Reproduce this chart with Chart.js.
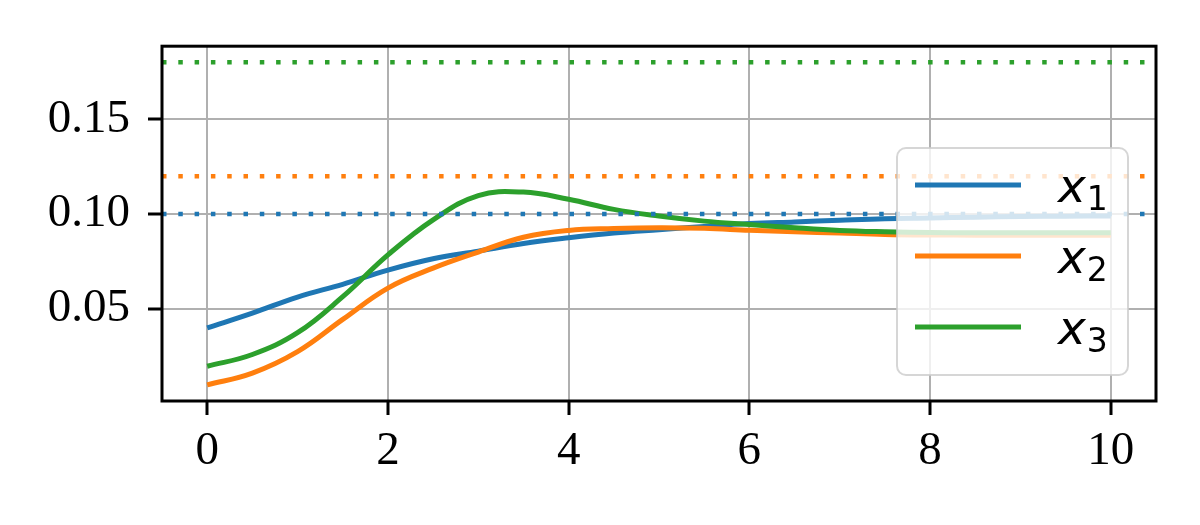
<!DOCTYPE html>
<html>
<head>
<meta charset="utf-8">
<script src="https://cdn.jsdelivr.net/npm/chart.js@4.4.0/dist/chart.umd.min.js"></script>
<style>
  html, body { margin: 0; padding: 0; background: #fff; }
  canvas { display: block; }
</style>
</head>
<body>
<canvas id="chart" width="1200" height="525"></canvas>
<script>
// time samples and the three state trajectories
const times = [0, 0.5, 1, 1.5, 2, 2.5, 3, 3.5, 4, 4.5, 5, 5.5, 6, 6.5, 7, 7.5, 8, 8.5, 9, 9.5, 10];
const x1Values = [0.040, 0.0478, 0.0563, 0.063, 0.0705, 0.0765, 0.0805, 0.0845, 0.0875, 0.090, 0.0918, 0.0935, 0.095, 0.0959, 0.0968, 0.0976, 0.098, 0.0984, 0.0987, 0.0989, 0.099];
const x2Values = [0.0100, 0.0162, 0.0275, 0.0445, 0.061, 0.0715, 0.080, 0.0878, 0.0914, 0.0924, 0.0928, 0.0925, 0.0915, 0.0907, 0.090, 0.0893, 0.089, 0.0889, 0.0889, 0.0889, 0.0889];
const x3Values = [0.0198, 0.026, 0.0375, 0.0565, 0.0785, 0.097, 0.1098, 0.1116, 0.1078, 0.1025, 0.099, 0.0963, 0.0945, 0.0928, 0.0914, 0.0907, 0.0903, 0.0902, 0.0902, 0.0902, 0.0902];
const seriesLabels = ['x_1', 'x_2', 'x_3'];
const seriesColors = ['#1f77b4', '#ff7f0e', '#2ca02c'];
const refLevels = [0.10, 0.12, 0.18];
const xTicks = [0, 2, 4, 6, 8, 10];
const yTicks = [0.05, 0.10, 0.15];
const xRange = [-0.5, 10.5];
const yRange = [0.0015, 0.1885];

const series = [x1Values, x2Values, x3Values];

const datasets = [];
series.forEach((vals, i) => {
    datasets.push({
        label: seriesLabels[i],
        data: times.map((t, k) => ({ x: t, y: vals[k] })),
        borderColor: seriesColors[i],
        borderWidth: 5,
        pointRadius: 0,
        tension: 0.4,
        fill: false,
        order: 10 - i
    });
});
refLevels.forEach((lvl, i) => {
    datasets.push({
        label: 'ref' + i,
        data: xRange.map(x => ({ x: x, y: lvl })),
        borderColor: seriesColors[i],
        borderWidth: 4.5,
        borderDash: [4.5, 11.8],
        pointRadius: 0,
        fill: false,
        isRef: true,
        order: 0
    });
});

const frame = {
    id: 'frame',
    afterDatasetsDraw(chart) {
        const { ctx, chartArea: a } = chart;
        ctx.save();
        ctx.strokeStyle = '#000';
        ctx.lineWidth = 3;
        ctx.strokeRect(a.left, a.top, a.right - a.left, a.bottom - a.top);
        ctx.restore();
    }
};

const mplLegend = {
    id: 'mplLegend',
    afterDraw(chart) {
        const { ctx, chartArea: a } = chart;
        const w = 231, h = 227;
        const left = a.right - 28 - w;
        const top = a.bottom - 26 - h;
        ctx.save();
        ctx.beginPath();
        ctx.roundRect(left, top, w, h, 9);
        ctx.fillStyle = 'rgba(255,255,255,0.8)';
        ctx.fill();
        ctx.strokeStyle = 'rgba(204,204,204,0.8)';
        ctx.lineWidth = 2;
        ctx.stroke();
        chart.data.datasets.filter(d => !d.isRef).forEach((d, i) => {
            const cy = top + 37 + i * 71;
            ctx.beginPath();
            ctx.moveTo(left + 18, cy);
            ctx.lineTo(left + 124, cy);
            ctx.strokeStyle = d.borderColor;
            ctx.lineWidth = 5;
            ctx.stroke();
            const [base, sub] = d.label.split('_');
            ctx.fillStyle = '#000';
            ctx.textBaseline = 'alphabetic';
            ctx.textAlign = 'left';
            ctx.font = 'italic 47px "DejaVu Sans"';
            ctx.fillText(base, left + 161, cy + 17);
            const bw = ctx.measureText(base).width;
            ctx.font = '33px "DejaVu Sans"';
            ctx.fillText(sub, left + 161 + bw + 1, cy + 25);
        });
        ctx.restore();
    }
};

const tickFont = { family: '"Liberation Serif", "Times New Roman", serif', size: 47 };

new Chart(document.getElementById('chart'), {
    type: 'line',
    data: { datasets: datasets },
    options: {
        responsive: false,
        animation: false,
        events: [],
        layout: { padding: { top: 45, right: 44, left: 0, bottom: 0 } },
        plugins: {
            legend: { display: false },
            tooltip: { enabled: false }
        },
        scales: {
            x: {
                type: 'linear',
                min: xRange[0],
                max: xRange[1],
                afterBuildTicks: s => { s.ticks = xTicks.map(v => ({ value: v })); },
                afterFit: s => { s.height = 124; },
                border: { display: false },
                grid: { color: '#b0b0b0', lineWidth: 2, tickColor: '#000', tickLength: 14, tickWidth: 3 },
                ticks: { color: '#000', font: tickFont, padding: 8, maxRotation: 0, callback: v => String(v) }
            },
            y: {
                type: 'linear',
                min: yRange[0],
                max: yRange[1],
                afterBuildTicks: s => { s.ticks = yTicks.map(v => ({ value: v })); },
                afterFit: s => { s.width = 162; },
                border: { display: false },
                grid: { color: '#b0b0b0', lineWidth: 2, tickColor: '#000', tickLength: 14, tickWidth: 3 },
                ticks: { color: '#000', font: tickFont, padding: 18, callback: v => v.toFixed(2) }
            }
        }
    },
    plugins: [frame, mplLegend]
});
</script>
</body>
</html>
